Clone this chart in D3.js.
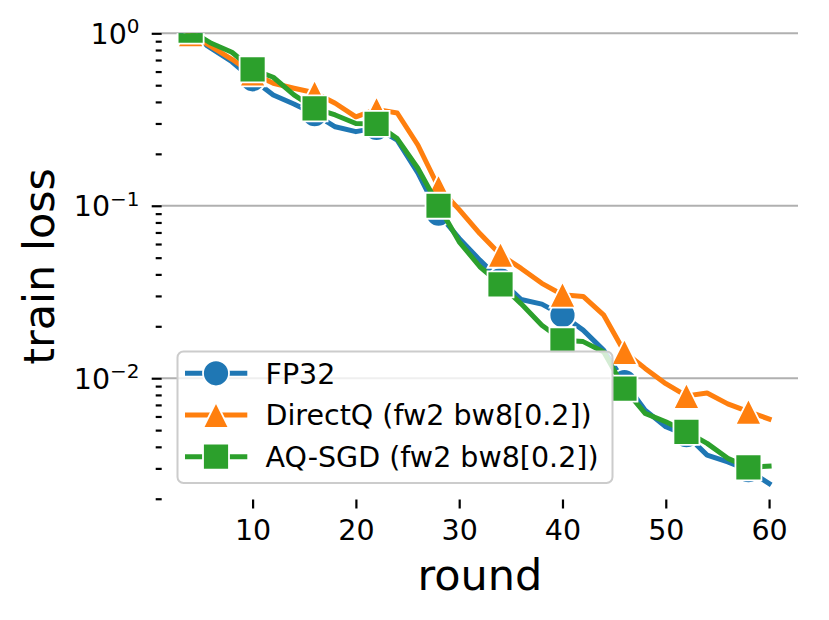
<!DOCTYPE html>
<html>
<head>
<meta charset="utf-8">
<script src="https://cdn.jsdelivr.net/npm/d3@7/dist/d3.min.js"></script>
<style>
  body { margin: 0; background: #fff; }
  text { font-family: "DejaVu Sans", sans-serif; fill: #000; }
</style>
</head>
<body>
<svg id="chart" width="829" height="620"></svg>
<script>
//------------------------------------------------------------------------------
// data

const rounds = [4, 6, 8, 10, 12, 14, 16, 18, 20, 22, 24, 26, 28, 30, 32,
                34, 36, 38, 40, 42, 44, 46, 48, 50, 52, 54, 56, 58, 60];

const fp32 = [0.977, 0.818, 0.684, 0.541, 0.439, 0.389, 0.340, 0.287, 0.269, 0.283,
              0.240, 0.155, 0.090, 0.0647, 0.0484, 0.0370, 0.0286, 0.0269, 0.0232, 0.0190,
              0.0145, 0.0095, 0.00653, 0.00523, 0.00468, 0.00358, 0.00327, 0.00293, 0.00245];

const directQ = [0.990, 0.836, 0.707, 0.586, 0.513, 0.480, 0.452, 0.393, 0.328, 0.362,
                 0.345, 0.225, 0.128, 0.095, 0.069, 0.052, 0.0433, 0.0355, 0.0305, 0.0298,
                 0.0232, 0.0142, 0.0114, 0.0093, 0.0079, 0.0082, 0.0071, 0.0064, 0.0058];

const aqSgd = [1.035, 0.875, 0.776, 0.618, 0.556, 0.440, 0.367, 0.336, 0.300, 0.298,
               0.245, 0.165, 0.100, 0.0618, 0.0443, 0.0350, 0.0270, 0.0203, 0.0166, 0.0163,
               0.0142, 0.0087, 0.00625, 0.00559, 0.00489, 0.00419, 0.00343, 0.00304, 0.00309];

const markerRounds = [4, 10, 16, 22, 28, 34, 40, 46, 52, 58];

const seriesNames = ['FP32', 'DirectQ (fw2 bw8[0.2])', 'AQ-SGD (fw2 bw8[0.2])'];
const seriesColors = ['#1f77b4', '#ff7f0e', '#2ca02c'];
const seriesMarkers = ['circle', 'triangle', 'square'];

const xTickValues = [10, 20, 30, 40, 50, 60];
const yMajorTicks = [1, 0.1, 0.01];
const yMajorExp = ['0', '\u22121', '\u22122'];

//------------------------------------------------------------------------------

const svg = d3.select('#chart');

const plot = { left: 161.7, right: 798, top: 33.3, bottom: 499.5 };

const x = d3.scaleLinear().domain([1.2, 62.8]).range([plot.left, plot.right]);
const y = d3.scaleLog().domain([1.98e-3, 1]).range([plot.bottom, plot.top]);

const tickFont = 28.5, labelFont = 43, markerSize = 26;

svg.append('defs').append('clipPath').attr('id', 'plotClip')
  .append('rect')
  .attr('x', plot.left).attr('y', plot.top)
  .attr('width', plot.right - plot.left).attr('height', plot.bottom - plot.top);

/** path string for a marker of the given kind centred on (0,0) */
function markerPath(kind, s) {
  const h = s / 2;
  if (kind === 'circle') {
    return d3.symbol(d3.symbolCircle, Math.PI * h * h)();
  } else if (kind === 'square') {
    return `M${-h},${-h}H${h}V${h}H${-h}Z`;
  }
  // matplotlib '^' : width == height
  return `M0,${-h}L${h},${h}L${-h},${h}Z`;
}

// grid lines at the decades
svg.append('g').attr('class', 'grid')
  .selectAll('line')
  .data(yMajorTicks)
  .join('line')
  .attr('x1', plot.left).attr('x2', plot.right)
  .attr('y1', d => y(d)).attr('y2', d => y(d))
  .attr('stroke', '#b0b0b0').attr('stroke-width', 2);

// y axis : major and minor ticks, no spine
const yMinor = y.ticks().filter(d => ! yMajorTicks.includes(d));

const gyMinor = svg.append('g')
  .attr('transform', `translate(${plot.left},0)`)
  .call(d3.axisLeft(y).tickValues(yMinor).tickSize(6).tickFormat(''));
const gyMajor = svg.append('g')
  .attr('transform', `translate(${plot.left},0)`)
  .call(d3.axisLeft(y).tickValues(yMajorTicks).tickSize(10).tickFormat(''));
[gyMinor, gyMajor].forEach(g => {
  g.select('.domain').remove();
  g.selectAll('.tick line').attr('stroke', '#000').attr('stroke-width', 2.2);
});

const yLabels = svg.append('g').attr('class', 'ylabels')
  .selectAll('text')
  .data(yMajorTicks)
  .join('text')
  .attr('x', 139.5)
  .attr('y', d => y(d) + 10.3)
  .attr('text-anchor', 'end')
  .attr('font-size', tickFont);
yLabels.append('tspan').text('10');
yLabels.append('tspan')
  .attr('dy', -10.3)
  .attr('font-size', 20)
  .text((d, i) => yMajorExp[i]);

// x axis
const gx = svg.append('g')
  .attr('transform', `translate(0,${plot.bottom})`)
  .call(d3.axisBottom(x).tickValues(xTickValues).tickSize(9).tickPadding(11));
gx.select('.domain').remove();
gx.selectAll('.tick line').attr('stroke', '#000').attr('stroke-width', 2.2);
gx.selectAll('.tick text')
  .attr('font-size', tickFont)
  .attr('font-family', '"DejaVu Sans", sans-serif')
  .attr('fill', '#000');

// axis titles
svg.append('text')
  .attr('x', (plot.left + plot.right) / 2).attr('y', 590)
  .attr('text-anchor', 'middle')
  .attr('font-size', labelFont)
  .text('round');

svg.append('text')
  .attr('transform', `translate(53.5,${(plot.top + plot.bottom) / 2}) rotate(-90)`)
  .attr('text-anchor', 'middle')
  .attr('font-size', labelFont)
  .text('train loss');

// series
const seriesValues = [fp32, directQ, aqSgd];
const line = d3.line().x(d => x(d[0])).y(d => y(d[1]));

const gData = svg.append('g').attr('clip-path', 'url(#plotClip)');

seriesValues.forEach((vals, i) => {
  const pts = rounds.map((r, j) => [r, vals[j]]);
  const g = gData.append('g').attr('class', 'series-' + i);
  g.append('path')
    .attr('d', line(pts))
    .attr('fill', 'none')
    .attr('stroke', seriesColors[i])
    .attr('stroke-width', 5)
    .attr('stroke-linejoin', 'round')
    .attr('stroke-linecap', 'square');
  g.selectAll('path.marker')
    .data(pts.filter(p => markerRounds.includes(p[0])))
    .join('path')
    .attr('class', 'marker')
    .attr('transform', p => `translate(${x(p[0])},${y(p[1])})`)
    .attr('d', markerPath(seriesMarkers[i], markerSize))
    .attr('fill', seriesColors[i])
    .attr('stroke', '#fff')
    .attr('stroke-width', 1.8);
});

// legend
const legend = svg.append('g').attr('class', 'legend');
legend.append('rect')
  .attr('x', 177.5).attr('y', 351.5)
  .attr('width', 435).attr('height', 131.5)
  .attr('rx', 6)
  .attr('fill', '#fff').attr('fill-opacity', 0.8)
  .attr('stroke', '#cccccc').attr('stroke-width', 2);

const entry = legend.selectAll('g.entry')
  .data(seriesNames)
  .join('g')
  .attr('class', 'entry')
  .attr('transform', (d, i) => `translate(0,${373.3 + i * 41.7})`);
entry.append('line')
  .attr('x1', 185).attr('x2', 247.3)
  .attr('stroke', (d, i) => seriesColors[i])
  .attr('stroke-width', 5);
entry.append('path')
  .attr('transform', 'translate(216,0)')
  .attr('d', (d, i) => markerPath(seriesMarkers[i], markerSize))
  .attr('fill', (d, i) => seriesColors[i])
  .attr('stroke', '#fff')
  .attr('stroke-width', 1.8);
entry.append('text')
  .attr('x', 265.5).attr('y', 10.3)
  .attr('font-size', tickFont)
  .text(d => d);
</script>
</body>
</html>
